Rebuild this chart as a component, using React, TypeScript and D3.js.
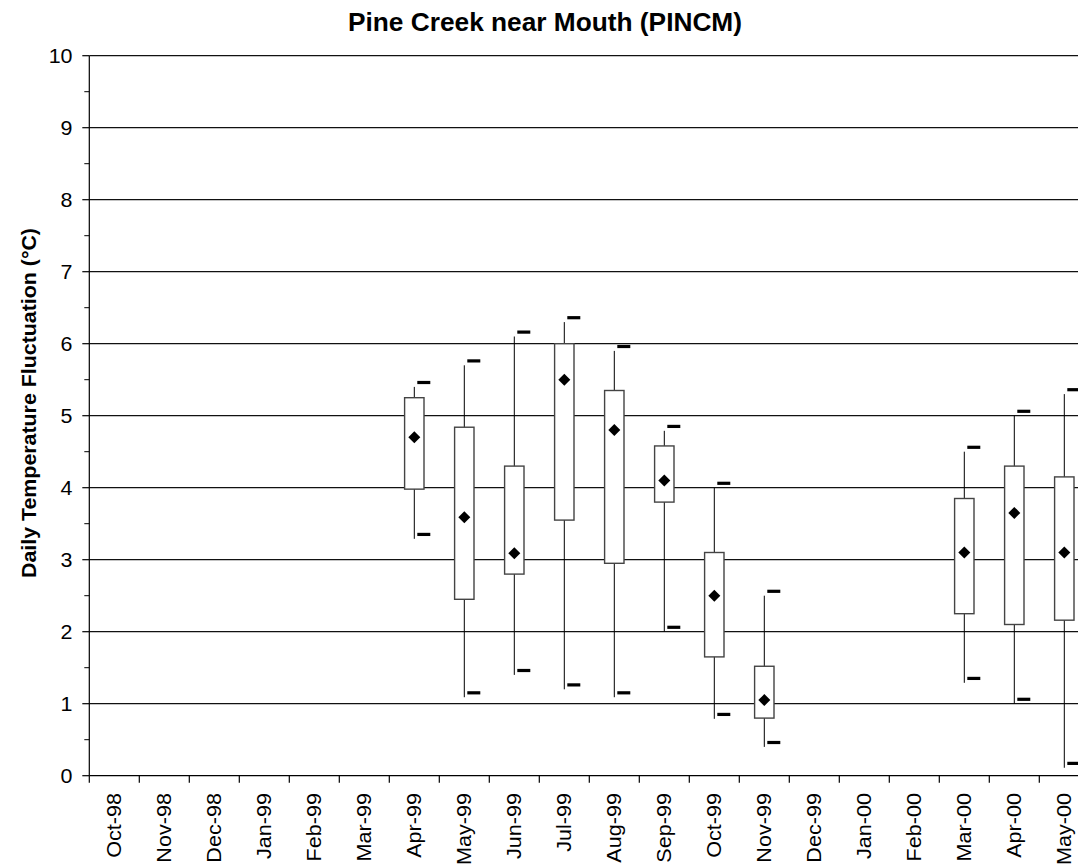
import React from "react";
import * as d3 from "d3";

const months = [
  "Oct-98", "Nov-98", "Dec-98", "Jan-99", "Feb-99", "Mar-99", "Apr-99", "May-99", "Jun-99", "Jul-99",
  "Aug-99", "Sep-99", "Oct-99", "Nov-99", "Dec-99", "Jan-00", "Feb-00", "Mar-00", "Apr-00", "May-00",
];
const whiskerHigh = [null, null, null, null, null, null, 5.40, 5.70, 6.10, 6.30, 5.90, 4.79, 4.00, 2.50, null, null, null, 4.50, 5.00, 5.30];
const q3 = [null, null, null, null, null, null, 5.25, 4.84, 4.30, 6.00, 5.35, 4.58, 3.10, 1.52, null, null, null, 3.85, 4.30, 4.15];
const meanVals = [null, null, null, null, null, null, 4.70, 3.59, 3.09, 5.50, 4.80, 4.10, 2.50, 1.05, null, null, null, 3.10, 3.65, 3.10];
const q1 = [null, null, null, null, null, null, 3.98, 2.45, 2.80, 3.55, 2.95, 3.80, 1.65, 0.80, null, null, null, 2.25, 2.10, 2.16];
const whiskerLow = [null, null, null, null, null, null, 3.29, 1.09, 1.40, 1.20, 1.09, 2.00, 0.79, 0.40, null, null, null, 1.29, 1.00, 0.11];
const yTicks = [0, 1, 2, 3, 4, 5, 6, 7, 8, 9, 10];
const yMinorTicks = [0.5, 1.5, 2.5, 3.5, 4.5, 5.5, 6.5, 7.5, 8.5, 9.5];

const title = "Pine Creek near Mouth (PINCM)";
const yTitle = "Daily Temperature Fluctuation (°C)";

const W = 1078;
const H = 866;
const left = 89.3;
const top = 55.7;
const bottom = 775.7;
const bandW = 50;

export default function App() {
  const x = d3.scaleBand<string>().domain(months).range([left, left + bandW * months.length]).paddingInner(0).paddingOuter(0);
  const y = d3.scaleLinear().domain([0, 10]).range([bottom, top]);
  const font = "Arial, 'Liberation Sans', Helvetica, sans-serif";
  const boxHalf = 9.7;
  const diamond = 6;

  return (
    <svg
      width={W}
      height={H}
      style={{ position: "absolute", left: 0, top: 0, background: "#fff" }}
      fontFamily={font}
    >
      <rect x={0} y={0} width={W} height={H} fill="#fff" />
      {yTicks.filter((t) => t > 0).map((t) => (
        <line key={"g" + t} x1={left} x2={left + bandW * months.length} y1={y(t)} y2={y(t)} stroke="#111" strokeWidth={1.3} />
      ))}
      <line x1={left} x2={left} y1={top} y2={bottom} stroke="#000" strokeWidth={1.2} />
      {yTicks.map((t) => (
        <g key={"yt" + t}>
          <line x1={left - 7} x2={left} y1={y(t)} y2={y(t)} stroke="#000" strokeWidth={1.2} />
          <text transform={`translate(72.5,${y(t) + 7}) scale(1.1,1)`} textAnchor="end" fontSize={19.5} fill="#000">{t}</text>
        </g>
      ))}
      {yMinorTicks.map((t) => (
        <line key={"ym" + t} x1={left - 5} x2={left} y1={y(t)} y2={y(t)} stroke="#000" strokeWidth={1} />
      ))}
      <line x1={left} x2={left + bandW * months.length} y1={bottom} y2={bottom} stroke="#000" strokeWidth={1.3} />
      {months.map((m, i) => (
        <line key={"xt" + i} x1={x(m)!} x2={x(m)!} y1={bottom} y2={bottom + 7} stroke="#000" strokeWidth={1.2} />
      ))}
      {months.map((m) => {
        const cx = x(m)! + x.bandwidth() / 2;
        return (
          <text
            key={"xl" + m}
            transform={`translate(${cx + 6.5},793) rotate(-90) scale(1.12,1)`}
            textAnchor="end"
            fontSize={19.3}
            fill="#000"
          >
            {m}
          </text>
        );
      })}
      {months.map((m, i) => {
        if (meanVals[i] == null) return null;
        const cx = x(m)! + x.bandwidth() / 2;
        const hi = whiskerHigh[i] as number;
        const lo = whiskerLow[i] as number;
        const top3 = q3[i] as number;
        const bot1 = q1[i] as number;
        const mv = meanVals[i] as number;
        const my = y(mv);
        return (
          <g key={"b" + m}>
            <line x1={cx} x2={cx} y1={y(hi)} y2={y(lo)} stroke="#000" strokeWidth={1} />
            <rect x={cx - boxHalf} y={y(top3)} width={boxHalf * 2} height={y(bot1) - y(top3)} fill="#fff" stroke="#444" strokeWidth={1.4} />
            <path d={`M${cx},${my - diamond}L${cx + diamond},${my}L${cx},${my + diamond}L${cx - diamond},${my}Z`} fill="#000" />
            <rect x={cx + 3} y={y(hi) - 4.4 - 1.6} width={13} height={3.2} fill="#000" />
            <rect x={cx + 3} y={y(lo) - 4.4 - 1.6} width={13} height={3.2} fill="#000" />
          </g>
        );
      })}
      <text x={545} y={31} textAnchor="middle" fontSize={25} fontWeight="bold" textLength={394} lengthAdjust="spacingAndGlyphs" fill="#000">
        {title}
      </text>
      <text
        transform={`translate(36,403) rotate(-90)`}
        textAnchor="middle"
        fontSize={21}
        fontWeight="bold"
        textLength={350}
        lengthAdjust="spacingAndGlyphs"
        fill="#000"
      >
        {yTitle}
      </text>
    </svg>
  );
}
